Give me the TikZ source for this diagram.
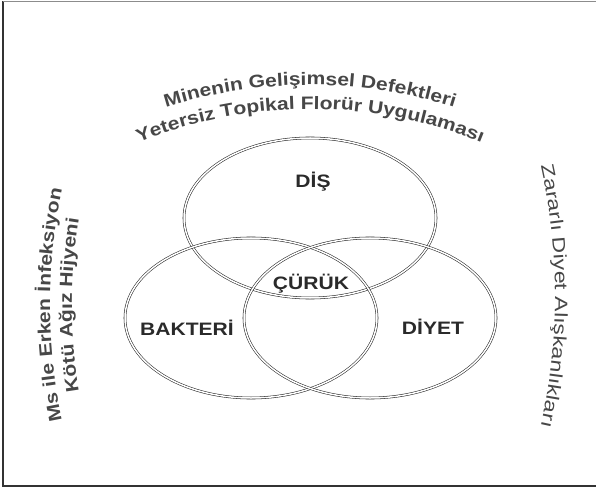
\documentclass[tikz,border=0pt]{standalone}
\usepackage{fontspec}
\setmainfont{Liberation Sans}
\newfontfamily\widesans[FakeStretch=1.17]{Liberation Sans}
\newfontfamily\widersans[FakeStretch=1.28]{Liberation Sans}
\usetikzlibrary{shapes.geometric,decorations.text}

\definecolor{inkgray}{HTML}{474747}
\definecolor{labelgray}{HTML}{2A2A2A}

\begin{document}
\begin{tikzpicture}[x=1pt,y=1pt,
    venn/.style={ellipse,draw=black!85,line width=.55pt,double,double distance=1.5pt,
      minimum width=252pt,minimum height=160pt,inner sep=0pt},
    lbl/.style={font=\widesans\fontsize{18}{21}\selectfont\bfseries,text=labelgray}]
  \useasboundingbox (0,0) rectangle (596,493);
  % frame
  \draw[line width=1.4pt,black!80] (596,7) -- (3,7) -- (3,492);
  \draw[line width=.8pt,black!45] (3,492) -- (596,492);

  % circles
  \node[venn] (dis) at (310,275) {};
  \node[venn] (bakteri) at (251,175) {};
  \node[venn] (diyet) at (370,175) {};

  \node[lbl] (dislbl) at (313,311) {DİŞ};
  \node[lbl] (curuk) at (311,209) {ÇÜRÜK};
  \node[lbl] (baklbl) at (187,165) {BAKTERİ};
  \node[lbl] (diylbl) at (433,166) {DİYET};

  % curved texts
  \coordinate (topc) at (310,-70);
  \coordinate (leftc) at (610,188);
  \coordinate (rightc) at (-45,197);
  \path[decorate,decoration={text along path,text align=center,
      text={|\widesans\fontsize{18}{21}\selectfont\bfseries\color{inkgray}|Minenin Gelişimsel Defektleri}}]
    ([shift={(115:478)}]topc) arc[start angle=115,end angle=65,radius=478];
  \path[decorate,decoration={text along path,text align=center,
      text={|\widesans\fontsize{18}{21}\selectfont\bfseries\color{inkgray}|Yetersiz Topikal Florür Uygulaması}}]
    ([shift={(120:454)}]topc) arc[start angle=120,end angle=60,radius=454];
  \path[decorate,decoration={text along path,text align=center,
      text={|\widesans\fontsize{18}{21}\selectfont\bfseries\color{inkgray}|Ms ile Erken İnfeksiyon}}]
    ([shift={(198:560)}]leftc) arc[start angle=198,end angle=162,radius=560];
  \path[decorate,decoration={text along path,text align=center,
      text={|\widesans\fontsize{18}{21}\selectfont\bfseries\color{inkgray}|Kötü Ağız Hijyeni}}]
    ([shift={(198:538)}]leftc) arc[start angle=198,end angle=162,radius=538];
  \path[decorate,decoration={text along path,text align=center,
      text={|\widersans\fontsize{18}{21}\selectfont\color{inkgray}|Zararlı Diyet Alışkanlıkları}}]
    ([shift={(18:600)}]rightc) arc[start angle=18,end angle=-18,radius=600];
\end{tikzpicture}
\end{document}
